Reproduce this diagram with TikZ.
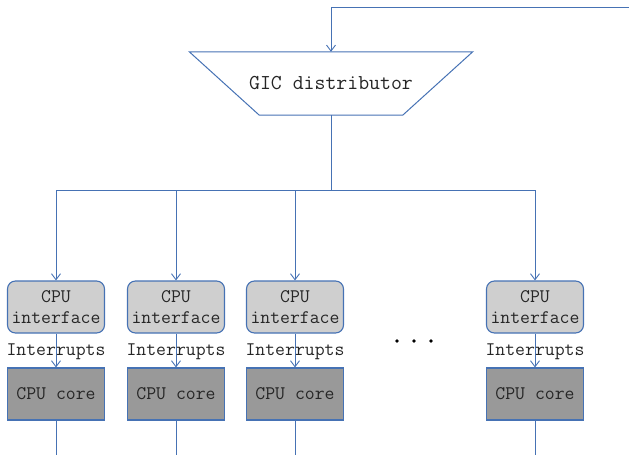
\documentclass[tikz,border=0pt]{standalone}
\usetikzlibrary{arrows.meta}
\definecolor{wireBlue}{RGB}{70,114,180}
\definecolor{ifGray}{RGB}{207,207,207}
\definecolor{coreGray}{RGB}{153,153,153}
\tikzset{
  wire/.style={wireBlue,line width=0.9pt},
  feed/.style={wire,-{Straight Barb[length=6pt,width=9pt]}},
  lbl/.style={text=black!85,font=\ttfamily\fontsize{19.2}{21}\selectfont},
  ifbox/.style={draw=wireBlue,line width=1.1pt,fill=ifGray,rounded corners=8pt,
    minimum width=97pt,minimum height=52pt,inner sep=0pt,align=center,lbl},
  corebox/.style={draw=wireBlue,line width=1.1pt,fill=coreGray,
    minimum width=97pt,minimum height=52pt,inner sep=0pt,lbl}
}

\begin{document}
\begin{tikzpicture}[x=1pt,y=-1pt]
    \useasboundingbox (0,0) rectangle (629,455);
    \def\busy{190}
    \def\slant{70pt}

    % distributor on top
    \node[minimum width=283pt,minimum height=63pt,inner sep=0pt,
      lbl,font=\ttfamily\fontsize{21.2}{21}\selectfont] (dist) at (331,83.5) {GIC distributor};
    \draw[wireBlue,line width=1pt] (dist.north west) -- (dist.north east)
      -- ([xshift=-\slant]dist.south east) -- ([xshift=\slant]dist.south west) -- cycle;
    \coordinate (in) at (629,7);
    \draw[feed] (in) -| (dist.north);
    \coordinate (bus) at (331,\busy);
    \draw[wire] (dist.south) -- (bus);

    % one column per core
    \foreach \x/\n in {56/1,176/2,295/3,535/4}{
      \node[ifbox] (if\n) at (\x,307) {CPU\\interface};
      \node[corebox] (core\n) at (\x,394) {CPU core};
      \coordinate (out\n) at (\x,455);
      \draw[feed] (bus) -| (if\n.north);
      \draw[feed] (if\n) -- (core\n) node[midway,lbl,yshift=-1.5pt] {Interrupts};
      \draw[wire] (core\n) -- (out\n);
    }
    \foreach \x in {397,414,431} \fill (\x,341) circle (1.8);
\end{tikzpicture}
\end{document}
